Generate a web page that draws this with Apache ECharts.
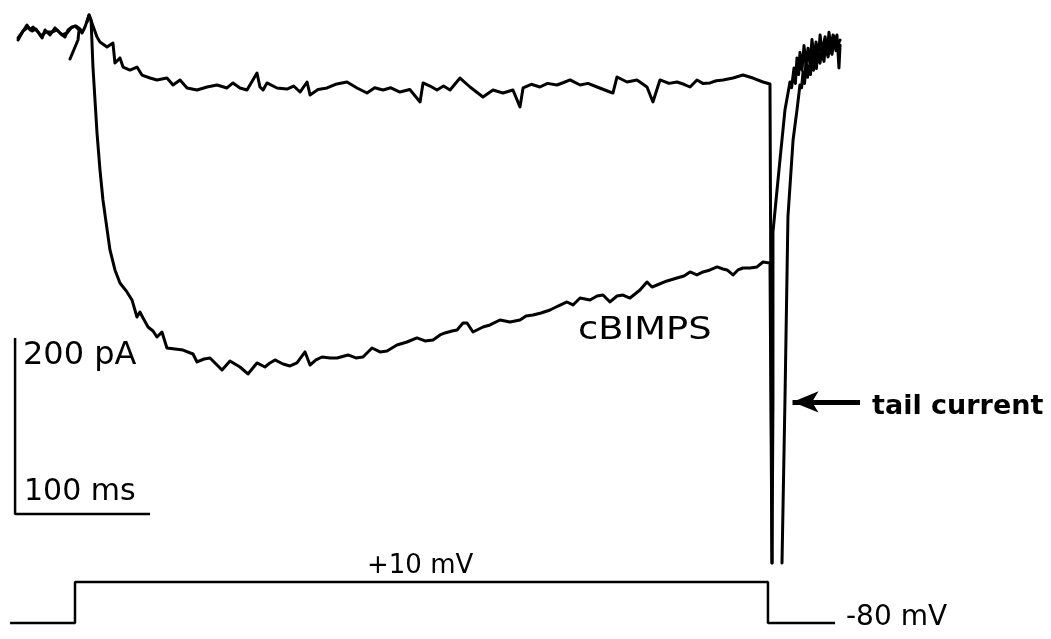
<!DOCTYPE html>
<html>
<head>
<meta charset="utf-8">
<script src="https://cdn.jsdelivr.net/npm/echarts@6/dist/echarts.min.js"></script>
<style>
html,body{margin:0;padding:0;background:#fff;}
#chart{width:1051px;height:639px;}
</style>
</head>
<body>
<div id="chart"></div>
<script>
// Time in ms (0 = start of the depolarising step), current in pA (0 = holding level)
var controlTrace = [
  [-42.2,-5.7],[-39.3,2.3],[-35.6,11.4],[-33.3,5.7],[-31.1,9.1],[-27.4,3.4],[-24.4,-3.4],[-22.2,5.7],
  [-18.5,0],[-14.8,8.0],[-11.1,2.3],[-7.4,-2.3],[-5.2,5.7],[-2.2,9.1],[0.7,10.2],[3.7,6.8],[5.2,2.3],
  [7.4,9.1],[10.4,22.7],
  [16.3,-2.3],[18.5,-8.0],[23.7,-13.6],[28.1,-9.1],[29.6,-31.8],[33.3,-26.1],[35.6,-36.4],[40.7,-39.8],
  [45.9,-36.4],[49.6,-45.5],[55.6,-48.9],[60.7,-51.1],[68.1,-48.9],[72.6,-56.8],[77.8,-51.1],[83.0,-60.2],
  [90.4,-62.5],[97.8,-59.1],[105.2,-56.8],[112.6,-60.2],[117.0,-54.5],[122.2,-60.2],[127.4,-62.5],
  [134.8,-43.2],[137.0,-59.1],[139.3,-62.5],[142.2,-54.5],[149.6,-60.2],[157.0,-61.4],[162.0,-58.0],
  [166.7,-64.8],[171.9,-53.4],[174.1,-68.2],[180.0,-62.0],[186.7,-60.2],[193.0,-56.0],[201.5,-53.4],
  [208.9,-60.2],[216.3,-65.9],[222.0,-60.0],[228.1,-62.5],[234.0,-60.0],[240.7,-64.8],[248.0,-62.0],
  [255.6,-76.1],[257.8,-54.5],[263.0,-58.0],[268.1,-62.5],[273.0,-58.0],[277.8,-62.5],[285.2,-48.9],
  [292.6,-59.1],[302.2,-70.5],[309.6,-62.5],[317.0,-65.9],[324.4,-62.5],[329.6,-81.8],[331.9,-60.2],
  [338.0,-56.0],[344.4,-59.1],[350.0,-55.0],[357.0,-56.8],[362.0,-54.0],[366.7,-51.1],[374.1,-56.8],
  [380.0,-55.0],[386.7,-59.1],[396.3,-64.8],[398.5,-65.9],[401.5,-47.7],[408.9,-53.4],[416.3,-51.1],
  [423.7,-59.1],[428.1,-76.1],[433.3,-51.1],[440.0,-55.0],[445.9,-53.4],[451.0,-56.0],[455.6,-59.1],
  [460.7,-51.1],[465.0,-55.0],[470.4,-54.5],[475.0,-52.0],[480.0,-51.1],[487.4,-48.9],[494.8,-45.5],
  [502.2,-48.9],[509.6,-53.4],[514.8,-55.7],
  [516.3,-600],[516.3,'-'],
  [523.7,-600],[525.9,-414.8],[528.1,-206.8],[531.9,-119.3],[534.8,-85.2],[537.0,-56.8],
  [538.2,-60],[539.3,-42],[540.4,-55],[541.5,-28.4],[542.6,-48],[543.7,-35.2],[544.8,-45],[545.9,-19.3],
  [547.0,-40],[548.1,-26.1],[549.2,-38],[550.4,-11.4],[551.8,-32],[553.3,-19.3],[554.8,-30],[556.3,-5.7],
  [557.8,-25],[559.3,-13.6],[560.8,-22],[562.2,-1.1],[563.7,-18],[565.2,-10.2],[566.7,-5.7]
];

var cbimpsTrace = [
  [-42.2,-3.4],[-38.5,4.5],[-34.8,9.1],[-31.9,4.5],[-28.9,6.8],[-25.2,-1.1],[-21.5,3.4],[-17.0,3.4],
  [-13.3,5.7],[-9.6,0],[-5.9,2.3],[-3.0,8.0],[0,10.2],[3.0,5.7],[2.2,-5.7],[-3.7,-27.3],[-3.7,'-'],
  [8.9,14.8],[10.4,22.7],
  [11.9,17.0],[13.3,-36.4],[16.3,-111.4],[18.5,-153.4],[20.7,-187.5],[25.9,-244.3],[29.6,-267.0],
  [33.3,-281.8],[38.5,-292.0],[42.2,-301.1],[45.9,-320.5],[48.1,-314.8],[50.4,-321.6],[54.1,-331.8],
  [57.8,-336.4],[60.7,-343.2],[64.4,-337.5],[68.1,-355.7],[74.1,-356.8],[80.0,-358.0],[87.4,-362.5],
  [90.4,-371.6],[95.6,-368.2],[100.0,-367.0],[108.9,-380.7],[114.8,-370.5],[118.5,-373.9],[122.2,-377.3],
  [128.1,-385.2],[134.8,-372.7],[140.7,-377.3],[144.4,-372.7],[148.1,-369.3],[154.1,-373.9],[159.3,-376.1],
  [164.4,-372.7],[170.4,-360.2],[174.1,-375.0],[178.5,-369.3],[183.0,-365.9],[188.9,-367.0],[194.1,-367.0],
  [202.2,-363.6],[208.1,-367.0],[213.3,-365.9],[220.0,-355.7],[225.9,-360.2],[231.1,-359.1],[238.5,-352.3],
  [245.9,-348.9],[253.3,-344.3],[259.3,-347.7],[265.2,-346.6],[270.4,-340.9],[274.1,-338.6],[279.3,-336.4],
  [283.0,-335.2],[287.4,-327.3],[290.4,-327.3],[294.8,-337.5],[302.2,-331.8],[307.4,-329.5],[314.8,-323.9],
  [322.2,-326.1],[329.6,-323.9],[334.1,-319.3],[339.3,-318.2],[345.2,-315.9],[351.9,-312.5],[357.8,-308.0],
  [364.4,-303.4],[368.9,-306.8],[374.1,-298.9],[381.5,-301.1],[386.7,-296.6],[391.1,-295.5],[396.3,-303.4],
  [401.5,-296.6],[405.9,-295.5],[411.1,-298.9],[418.5,-289.8],[423.7,-280.7],[427.4,-286.4],[431.1,-284.1],
  [438.5,-279.5],[445.9,-276.1],[451.1,-273.9],[455.6,-269.3],[460.7,-272.7],[465.2,-269.3],[470.4,-267.0],
  [475.6,-263.6],[480.0,-265.9],[483.0,-267.0],[487.4,-272.7],[491.1,-267.0],[494.8,-264.8],[500.0,-264.8],
  [505.2,-263.6],[509.6,-258.0],[514.8,-259.1],
  [516.3,-600],[517.0,-414.8],[517.0,-223.9],[519.3,-187.5],[522.2,-142.0],[525.9,-85.2],[529.6,-53.4],
  [530.8,-60],[532.6,-37.5],[533.6,-55],[534.8,-26.1],[536.0,-45],[537.0,-20],[538.5,-40],[540.0,-12],
  [541.5,-33],[543.0,-15],[544.5,-35],[545.9,-5],[547.5,-28],[548.9,-8],[550.5,-30],[551.9,0],
  [553.5,-20],[555.6,-2],[557.0,-22],[558.5,3],[560.0,-15],[561.5,0],[563.0,-12],[564.4,0],
  [565.9,-37.5],[566.7,-11.4]
];

// Voltage protocol, mV
var voltageProtocol = [[-48.1,-80],[0,-80],[0,10],[513.3,10],[513.3,-80],[563.0,-80]];

// Scale bars: 100 ms and 200 pA from a common corner
var scaleCorner = [-44.4,-544.3];
var scaleTime = 100;
var scaleCurrent = 200;
var scaleBar = [
  [scaleCorner[0], scaleCorner[1] + scaleCurrent],
  [scaleCorner[0], scaleCorner[1]],
  [scaleCorner[0] + scaleTime, scaleCorner[1]]
];

// Arrow pointing at the tail current
var arrowFrom = [581.5,-417.0];
var arrowTo = [531.5,-417.0];

var labelTexts = {
  current: '200 pA', time: '100 ms', drug: 'cBIMPS', tail: 'tail current',
  stepHigh: '+10 mV', stepLow: '-80 mV'
};

var chart = echarts.init(document.getElementById('chart'), null, {renderer:'canvas'});
var lineBase = {type:'line', symbol:'none', animation:false, silent:true, connectNulls:false};

chart.setOption({
  backgroundColor:'#ffffff',
  animation:false,
  grid:{left:0,right:0,top:0,bottom:0},
  xAxis:{type:'value', min:-55.56, max:722.96, show:false, splitLine:{show:false}},
  yAxis:[
    {type:'value', min:-686.4, max:39.77, show:false, splitLine:{show:false}},
    {type:'value', min:-115.1, max:1287.5, show:false, splitLine:{show:false}}
  ],
  series:[
    Object.assign({}, lineBase, {name:'control', data:controlTrace, yAxisIndex:0,
      lineStyle:{color:'#000', width:3, join:'round', cap:'round'}}),
    Object.assign({}, lineBase, {name:'cBIMPS', data:cbimpsTrace, yAxisIndex:0,
      lineStyle:{color:'#000', width:3, join:'round', cap:'round'}}),
    Object.assign({}, lineBase, {name:'scale', data:scaleBar, yAxisIndex:0,
      lineStyle:{color:'#000', width:2.5}}),
    Object.assign({}, lineBase, {name:'voltage', data:voltageProtocol, yAxisIndex:1,
      lineStyle:{color:'#000', width:2.5}}),
    Object.assign({}, lineBase, {name:'arrow', data:[], yAxisIndex:0,
      markLine:{silent:true, animation:false, symbol:['none','arrow'], symbolSize:[16,26],
        label:{show:false}, lineStyle:{color:'#000', width:5, type:'solid'},
        data:[[{coord:arrowFrom},{coord:arrowTo}]]}})
  ],
  graphic:[
    {type:'text', left:23, top:340, style:{text:labelTexts.current, font:'32px "DejaVu Sans"', fill:'#000'}},
    {type:'text', left:24, top:477, style:{text:labelTexts.time, font:'30px "DejaVu Sans"', fill:'#000'}},
    {type:'text', x:578, y:315, scaleX:1.15, style:{text:labelTexts.drug, font:'32px "DejaVu Sans"', fill:'#000'}},
    {type:'text', left:872, top:393, style:{text:labelTexts.tail, font:'bold 27px "DejaVu Sans"', fill:'#000'}},
    {type:'text', left:367, top:553, style:{text:labelTexts.stepHigh, font:'26px "DejaVu Sans"', fill:'#000'}},
    {type:'text', left:846, top:604, style:{text:labelTexts.stepLow, font:'28px "DejaVu Sans"', fill:'#000'}}
  ]
});
</script>
</body>
</html>
